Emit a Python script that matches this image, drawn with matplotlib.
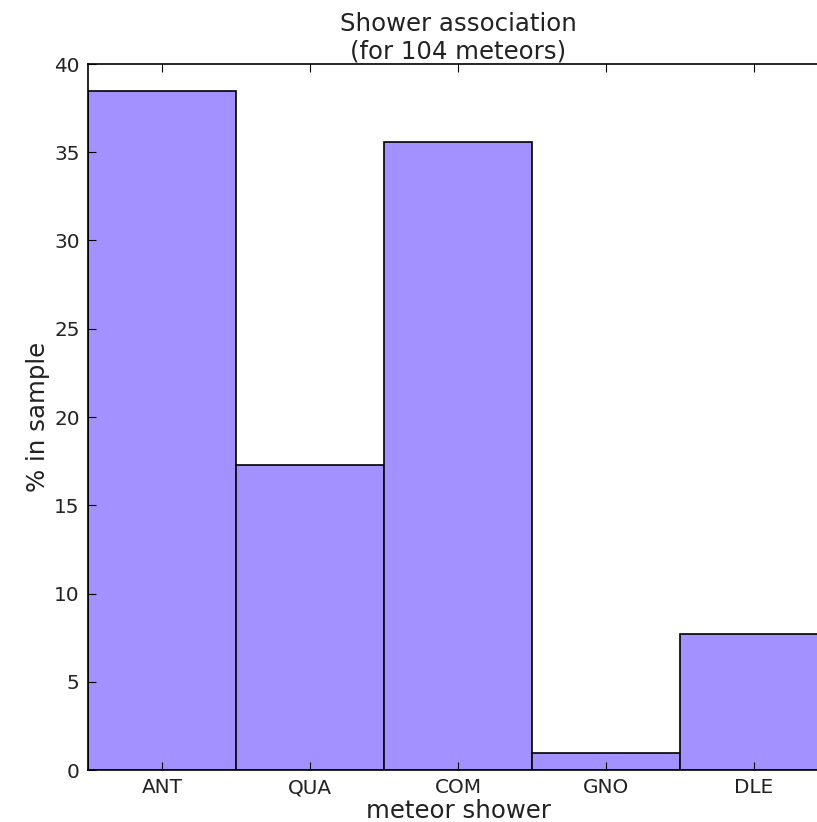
import matplotlib
matplotlib.use("Agg")
import matplotlib.pyplot as plt
import numpy as np

showers = ["ANT", "QUA", "COM", "GNO", "DLE"]
counts = [40, 18, 37, 1, 8]
total = 104
percent = [100.0 * c / total for c in counts]

fig = plt.figure(figsize=(8.17, 8.22), dpi=100)
ax = fig.add_axes([88/817, 52/822, 740/817, 706/822])
x = np.arange(len(showers))
ax.bar(x, percent, width=1.0, color="#a391ff", edgecolor="black", linewidth=1.2)
ax.set_xlim(-0.5, 4.5)
ax.set_ylim(0, 40)
ax.set_xticks(x)
ax.set_xticklabels(showers)
ax.set_yticks(range(0, 41, 5))
ax.tick_params(direction="in", top=True, right=True, labelsize=14.4, length=6, pad=6,
               labelcolor="#222222")
ax.set_xlabel("meteor shower", fontsize=17.6, labelpad=1, color="#222222")
ax.set_ylabel("% in sample", fontsize=17.6, labelpad=3, color="#222222")
ax.set_title("Shower association\n(for 104 meteors)", fontsize=17.6, pad=4, color="#222222")
for s in ax.spines.values():
    s.set_linewidth(1.2)
fig.savefig("out.png", dpi=100)
